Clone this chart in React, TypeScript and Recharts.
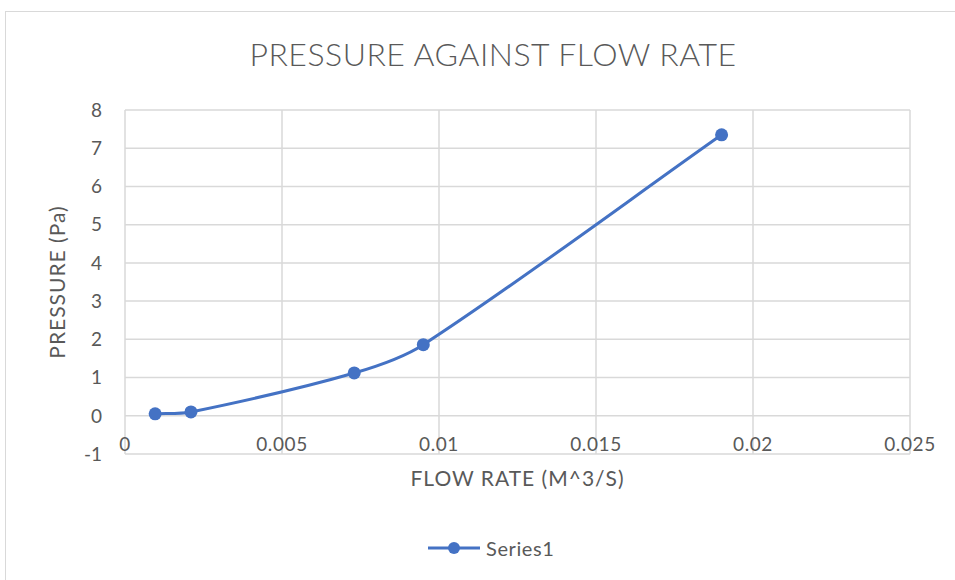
import { CartesianGrid, Label, Legend, Line, LineChart, XAxis, YAxis } from "recharts";

// values
const flowRate = [0.00096, 0.0021, 0.0073, 0.0095, 0.019];
const pressure = [0.05, 0.1, 1.12, 1.86, 7.35];
const xTicks = [0, 0.005, 0.01, 0.015, 0.02, 0.025];
const yTicks = [-1, 0, 1, 2, 3, 4, 5, 6, 7, 8];
const seriesName = "Series1";

const data = flowRate.map((flow, i) => ({ flow, pressure: pressure[i] }));

const ink = "#595959";
const rule = "#d9d9d9";
const blue = "#4472C4";
const font = "Lato, 'Open Sans', sans-serif";

// Excel-style smoothed line: bezier through the points, tangent along the neighbours,
// handle length scaled to each segment so uneven spacing doesn't overshoot
function smoothCurve(context: any) {
  let pts: [number, number][] = [];
  const unit = (a: [number, number], b: [number, number]) => {
    const dx = b[0] - a[0];
    const dy = b[1] - a[1];
    const len = Math.hypot(dx, dy) || 1;
    return [dx / len, dy / len];
  };
  return {
    areaStart() {},
    areaEnd() {},
    lineStart() {
      pts = [];
    },
    point(x: number, y: number) {
      pts.push([+x, +y]);
    },
    lineEnd() {
      const n = pts.length;
      if (!n) return;
      const tan = pts.map((_, i) => unit(pts[Math.max(i - 1, 0)], pts[Math.min(i + 1, n - 1)]));
      context.moveTo(pts[0][0], pts[0][1]);
      for (let i = 0; i < n - 1; i++) {
        const a = pts[i];
        const b = pts[i + 1];
        const h = Math.hypot(b[0] - a[0], b[1] - a[1]) * 0.3;
        context.bezierCurveTo(
          a[0] + tan[i][0] * h,
          a[1] + tan[i][1] * h,
          b[0] - tan[i + 1][0] * h,
          b[1] - tan[i + 1][1] * h,
          b[0],
          b[1]
        );
      }
    },
  };
}

function XTick({ x, y, payload }: any) {
  return (
    <text x={x} y={y - 3} textAnchor="middle" fill={ink} fontSize={19} letterSpacing={0.6} fontFamily={font}>
      {String(payload.value)}
    </text>
  );
}

function LegendContent() {
  return (
    <div style={{ display: "flex", alignItems: "center", paddingLeft: 422, fontFamily: font }}>
      <svg width={52} height={14}>
        <line x1={0} y1={7} x2={52} y2={7} stroke={blue} strokeWidth={3} />
        <circle cx={26} cy={7} r={6} fill={blue} />
      </svg>
      <span style={{ marginLeft: 6, color: ink, fontSize: 20, letterSpacing: 0.6 }}>{seriesName}</span>
    </div>
  );
}

export default function App() {
  return (
    <div style={{ position: "absolute", left: 0, top: 0, width: 955, height: 580, overflow: "hidden", background: "#fff" }}>
      <div
        style={{
          position: "absolute",
          left: 5,
          top: 11,
          width: 950,
          height: 570,
          border: `1px solid ${rule}`,
        }}
      >
        <LineChart width={950} height={570} data={data} margin={{ top: 98, right: 46, left: 0, bottom: 22 }}>
          <CartesianGrid stroke={rule} strokeWidth={1.5} />
          <XAxis
            dataKey="flow"
            type="number"
            domain={[0, 0.025]}
            ticks={xTicks}
            axisLine={false}
            tickLine={false}
            tickSize={0}
            tickMargin={0}
            tick={<XTick />}
            height={82}
          >
            <Label
              value="FLOW RATE (M^3/S)"
              position="insideTop"
              offset={17}
              fill={ink}
              fontSize={21}
              fontFamily={font}
              style={{ letterSpacing: 1 }}
            />
          </XAxis>
          <YAxis
            type="number"
            domain={[-1, 8]}
            ticks={yTicks}
            axisLine={false}
            tickLine={false}
            tickSize={0}
            tickMargin={23}
            width={119}
            tick={{ fill: ink, fontSize: 19, fontFamily: font }}
          >
            <Label
              value="PRESSURE (Pa)"
              angle={-90}
              position="insideLeft"
              offset={52}
              fill={ink}
              fontSize={21}
              fontFamily={font}
              style={{ textAnchor: "middle", letterSpacing: 1 }}
            />
          </YAxis>
          <Legend verticalAlign="bottom" content={<LegendContent />} wrapperStyle={{ left: 0, width: 950 }} />
          <Line
            type={smoothCurve as any}
            dataKey="pressure"
            name={seriesName}
            stroke={blue}
            strokeWidth={3}
            dot={{ r: 6.5, fill: blue, stroke: blue, strokeWidth: 0 }}
            isAnimationActive={false}
          />
        </LineChart>
        <div
          style={{
            position: "absolute",
            left: -5,
            top: 26,
            width: 984,
            textAlign: "center",
            fontFamily: font,
            fontWeight: 300,
            fontSize: 32,
            lineHeight: "32px",
            letterSpacing: 0.5,
            color: ink,
          }}
        >
          PRESSURE AGAINST FLOW RATE
        </div>
      </div>
    </div>
  );
}
